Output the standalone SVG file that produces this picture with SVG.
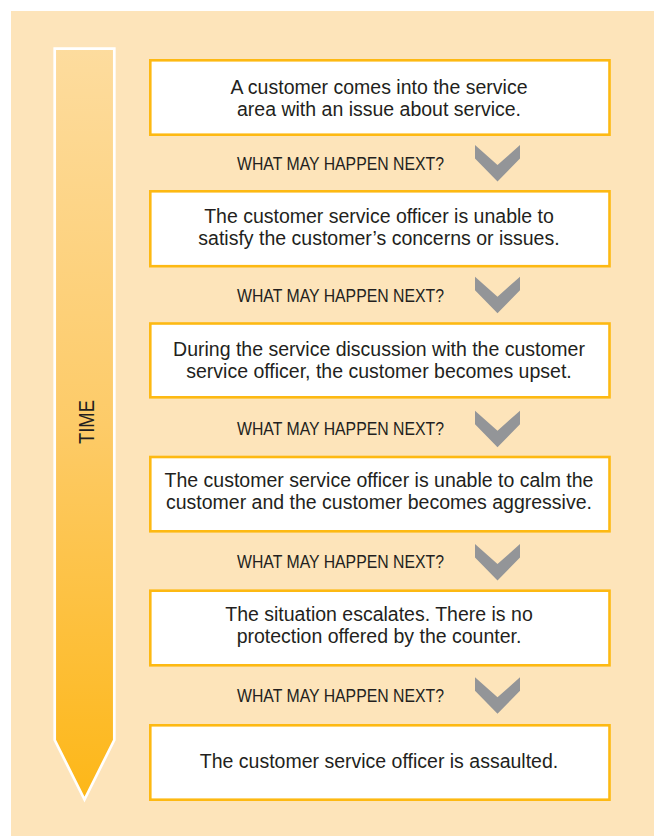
<svg xmlns="http://www.w3.org/2000/svg" width="654" height="836" viewBox="0 0 654 836">
<defs>
<linearGradient id="timeGrad" x1="0" y1="0" x2="0" y2="1">
<stop offset="0" stop-color="#FDDC9E"/>
<stop offset="0.5" stop-color="#FDCB68"/>
<stop offset="1" stop-color="#FDB718"/>
</linearGradient>
<polygon id="chev" points="475,0 497.5,20 520,0 520,13.5 497.5,36.5 475,13.5"/>
</defs>
<style>
.box{fill:#FFFFFF;stroke:#FDB913;stroke-width:2.6}
.txt{font-family:"Liberation Sans",Arial,sans-serif;font-size:19.5px;fill:#231F20;text-anchor:middle}
.q{font-family:"Liberation Sans",Arial,sans-serif;font-size:18px;fill:#231F20}
.chev{fill:#939598}
</style>
<rect x="11" y="11" width="643" height="825" fill="#FDE4BA"/>
<g id="time-arrow">
<polygon points="54.7,48.7 114.3,48.7 114.3,740 84.5,799.5 54.7,740" fill="url(#timeGrad)" stroke="#FFFFFF" stroke-width="2.7" stroke-miterlimit="10"/>
<text transform="translate(93.5,422) rotate(-90)" font-family="Liberation Sans, Arial, sans-serif" font-size="22" fill="#231F20" text-anchor="middle" textLength="44" lengthAdjust="spacingAndGlyphs">TIME</text>
</g>
<g id="node1">
<rect class="box" x="150.3" y="60.3" width="459.2" height="74.4"/>
<text class="txt" x="379" y="94.3">A customer comes into the service</text>
<text class="txt" x="379" y="116.3">area with an issue about service.</text>
</g>
<g id="node2">
<rect class="box" x="150.3" y="191.3" width="459.2" height="74.9"/>
<text class="txt" x="379" y="222.7">The customer service officer is unable to</text>
<text class="txt" x="379" y="245">satisfy the customer’s concerns or issues.</text>
</g>
<g id="node3">
<rect class="box" x="150.3" y="323.5" width="459.2" height="73.8"/>
<text class="txt" x="379" y="356">During the service discussion with the customer</text>
<text class="txt" x="379" y="378.3">service officer, the customer becomes upset.</text>
</g>
<g id="node4">
<rect class="box" x="150.3" y="457" width="459.2" height="74.3"/>
<text class="txt" x="379" y="486.7">The customer service officer is unable to calm the</text>
<text class="txt" x="379" y="509.3">customer and the customer becomes aggressive.</text>
</g>
<g id="node5">
<rect class="box" x="150.3" y="590.7" width="459.2" height="74.6"/>
<text class="txt" x="379" y="621">The situation escalates. There is no</text>
<text class="txt" x="379" y="643.3">protection offered by the counter.</text>
</g>
<g id="node6">
<rect class="box" x="150.3" y="725.3" width="459.2" height="74.4"/>
<text class="txt" x="379" y="767.7">The customer service officer is assaulted.</text>
</g>
<g id="connectors">
<use href="#chev" class="chev" y="145"/>
<text class="q" x="237" y="170.3" textLength="207" lengthAdjust="spacingAndGlyphs">WHAT MAY HAPPEN NEXT?</text>
<use href="#chev" class="chev" y="276.7"/>
<text class="q" x="237" y="301.7" textLength="207" lengthAdjust="spacingAndGlyphs">WHAT MAY HAPPEN NEXT?</text>
<use href="#chev" class="chev" y="410.7"/>
<text class="q" x="237" y="434.6" textLength="207" lengthAdjust="spacingAndGlyphs">WHAT MAY HAPPEN NEXT?</text>
<use href="#chev" class="chev" y="544"/>
<text class="q" x="237" y="568.3" textLength="207" lengthAdjust="spacingAndGlyphs">WHAT MAY HAPPEN NEXT?</text>
<use href="#chev" class="chev" y="677.3"/>
<text class="q" x="237" y="701.7" textLength="207" lengthAdjust="spacingAndGlyphs">WHAT MAY HAPPEN NEXT?</text>
</g>
</svg>
